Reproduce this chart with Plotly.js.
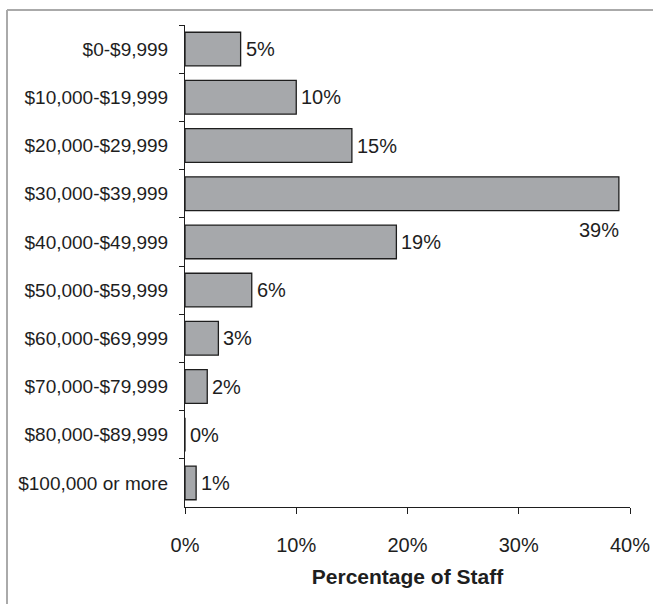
<!DOCTYPE html>
<html>
<head>
<meta charset="utf-8">
<script src="https://cdn.plot.ly/plotly-3.0.1.min.js"></script>
<style>html,body{margin:0;padding:0;background:#fff;}</style>
</head>
<body>
<div id="chart" style="width:653px;height:604px;"></div>
<script>
const categories = ["$0-$9,999","$10,000-$19,999","$20,000-$29,999","$30,000-$39,999","$40,000-$49,999","$50,000-$59,999","$60,000-$69,999","$70,000-$79,999","$80,000-$89,999","$100,000 or more"];
const values = [5, 10, 15, 39, 19, 6, 3, 2, 0, 1];
const xTicks = [0, 10, 20, 30, 40];
const xTickLabels = ["0%","10%","20%","30%","40%"];

const fontFam = "Liberation Sans, Arial, sans-serif";
const ink = "#1e1e1e";

const trace = {
  type: "bar",
  orientation: "h",
  x: values,
  y: categories,
  marker: {color: "#a6a8ab", line: {color: ink, width: 1.3}},
  width: 0.7,
  hoverinfo: "none"
};

const annotations = values.map((v, i) => {
  const big = v >= 35;
  return {
    x: v, y: categories[i], xref: "x", yref: "y",
    text: v + "%", showarrow: false,
    xanchor: big ? "right" : "left",
    xshift: big ? 2 : 3,
    yshift: big ? -36 : 0,
    font: {family: fontFam, size: 20, color: ink}
  };
});

const layout = {
  width: 653, height: 604,
  margin: {l: 185, r: 23, t: 25, b: 97},
  paper_bgcolor: "#fff", plot_bgcolor: "#fff",
  showlegend: false,
  font: {family: fontFam, color: ink},
  xaxis: {
    range: [0, 40], tickvals: xTicks, ticktext: xTickLabels,
    showgrid: false, zeroline: false, showline: true, linecolor: ink, linewidth: 1,
    ticks: "outside", ticklen: 6, tickcolor: ink,
    tickfont: {size: 20, family: fontFam, color: ink},
    ticklabelstandoff: 14,
    title: {text: "<b>Percentage of Staff</b>", font: {size: 21, family: fontFam, color: ink}, standoff: 14},
    fixedrange: true
  },
  yaxis: {
    type: "category", autorange: "reversed",
    showgrid: false, zeroline: false, showline: true, linecolor: ink, linewidth: 1,
    ticks: "outside", ticklen: 5, tickcolor: ink, tickson: "boundaries",
    tickfont: {size: 19, family: fontFam, color: ink},
    ticklabelstandoff: 12,
    fixedrange: true
  },
  annotations: annotations,
  shapes: [
    {type: "line", xref: "paper", yref: "paper",
     x0: (7-185)/445, x1: (660-185)/445, y0: (507-10)/482, y1: (507-10)/482,
     line: {color: "#aaaaaa", width: 2}},
    {type: "line", xref: "paper", yref: "paper",
     x0: (7-185)/445, x1: (7-185)/445, y0: (507-10)/482, y1: (507-610)/482,
     line: {color: "#aaaaaa", width: 2}}
  ]
};

Plotly.newPlot("chart", [trace], layout, {displayModeBar: false, staticPlot: true});
</script>
</body>
</html>
